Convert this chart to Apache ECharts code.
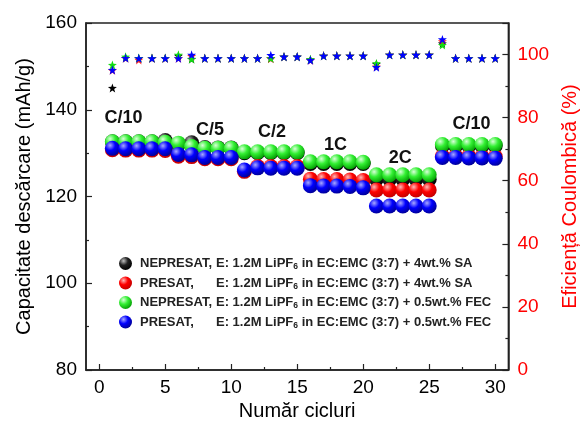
<!DOCTYPE html>
<html>
<head>
<meta charset="utf-8">
<script src="https://cdn.jsdelivr.net/npm/echarts@6/dist/echarts.min.js"></script>
<style>
  html, body { margin: 0; padding: 0; background: #fff; }
  #chart { width: 588px; height: 428px; }
</style>
</head>
<body>
<div id="chart"></div>
<script>
// cycle numbers
const cycles = [1, 2, 3, 4, 5, 6, 7, 8, 9, 10, 11, 12, 13, 14, 15, 16, 17, 18, 19, 20, 21, 22, 23, 24, 25, 26, 27, 28, 29, 30];

// discharge capacity (mAh/g)
const capNepresatSA = [132.6, 132.6, 132.6, 132.6, 132.9, 132.0, 132.4, 131.3, 131.2, 131.2, 130.1, 130.1, 130.1, 130.1, 130.1, 127.6, 127.6, 127.6, 127.6, 127.6, 124.0, 124.0, 124.0, 124.0, 124.0, 131.7, 131.7, 131.7, 131.7, 131.7];
const capPresatSA = [130.8, 130.7, 130.7, 130.7, 130.6, 129.3, 129.2, 128.7, 128.7, 128.7, 125.8, 126.9, 126.9, 126.9, 126.9, 124.0, 123.9, 123.9, 123.8, 123.7, 121.5, 121.5, 121.5, 121.5, 121.5, 129.3, 129.3, 129.3, 129.2, 129.2];
const capNepresatFEC = [132.6, 132.6, 132.6, 132.6, 132.5, 132.3, 131.5, 131.1, 131.1, 131.1, 130.3, 130.3, 130.3, 130.3, 130.3, 128.0, 128.0, 128.0, 128.0, 127.9, 125.0, 125.0, 125.0, 125.0, 125.0, 132.0, 132.0, 132.0, 132.0, 132.0];
const capPresatFEC = [131.1, 131.0, 131.0, 131.0, 131.0, 129.7, 129.6, 129.0, 129.0, 129.0, 126.1, 126.6, 126.5, 126.5, 126.5, 122.5, 122.4, 122.4, 122.3, 122.0, 117.8, 117.8, 117.8, 117.8, 117.8, 129.0, 129.0, 128.9, 128.9, 128.8];

// coulombic efficiency (%)
const effNepresatSA = [89.4, 98.9, 98.8, 98.8, 98.8, 99.6, 98.6, 98.8, 98.8, 98.8, 98.8, 98.8, 98.8, 99.3, 99.3, 98.4, 99.6, 99.6, 99.6, 99.6, 97.0, 99.9, 99.9, 99.9, 99.9, 103.5, 98.8, 98.8, 98.8, 98.8];
const effPresatSA = [95.0, 98.9, 98.3, 98.8, 98.8, 98.8, 99.5, 98.8, 98.8, 98.8, 98.8, 98.8, 98.7, 99.3, 99.3, 98.2, 99.6, 99.6, 99.6, 99.6, 96.2, 99.9, 99.9, 99.9, 99.9, 104.2, 98.8, 98.8, 98.8, 98.8];
const effNepresatFEC = [96.7, 99.3, 98.9, 98.9, 98.9, 99.9, 98.6, 98.8, 98.8, 98.8, 98.8, 98.8, 98.8, 99.3, 99.3, 98.5, 99.6, 99.6, 99.6, 99.6, 97.2, 99.9, 99.9, 99.9, 99.9, 103.0, 98.8, 98.8, 98.8, 98.8];
const effPresatFEC = [95.1, 98.9, 98.8, 98.8, 98.8, 98.8, 99.9, 98.8, 98.8, 98.8, 98.8, 98.8, 99.8, 99.3, 99.3, 98.2, 99.6, 99.6, 99.6, 99.6, 96.0, 99.9, 99.9, 99.9, 99.9, 104.8, 98.8, 98.8, 98.8, 98.8];

// tick labels
const xTicks = [0, 5, 10, 15, 20, 25, 30];
const xMinorTicks = [2.5, 7.5, 12.5, 17.5, 22.5, 27.5];

// rate labels: [text, cycle, capacity]
const rateLabels = [['C/10', 1.85, 138.1], ['C/5', 8.4, 135.3], ['C/2', 13.1, 134.9], ['1C', 17.9, 131.9], ['2C', 22.8, 128.9], ['C/10', 28.2, 136.7]];

const FONT = '"Liberation Sans", Arial, sans-serif';

function sphere(light, base, dark) {
  return new echarts.graphic.RadialGradient(0.35, 0.3, 0.75, [
    { offset: 0, color: light },
    { offset: 0.45, color: base },
    { offset: 1, color: dark }
  ]);
}

const STAR = 'path://M0,-10L2.35,-3.24L9.51,-3.09L3.8,1.24L5.88,8.09L0,4L-5.88,8.09L-3.8,1.24L-9.51,-3.09L-2.35,-3.24Z';

const groups = [
  { name: 'nsa', cap: capNepresatSA, eff: effNepresatSA, fill: sphere('#c0c0c0', '#202020', '#000000'), star: '#000000' },
  { name: 'psa', cap: capPresatSA, eff: effPresatSA, fill: sphere('#ffb8b8', '#ff0000', '#c00000'), star: '#ff2020' },
  { name: 'nfec', cap: capNepresatFEC, eff: effNepresatFEC, fill: sphere('#d8ffd8', '#33f033', '#009a00'), star: '#11dd11' },
  { name: 'pfec', cap: capPresatFEC, eff: effPresatFEC, fill: sphere('#a8a8ff', '#0000ff', '#000090'), star: '#0000ff' }
];

const legendText = {
  nsa: '{a|NEPRESAT,}{t|E: 1.2M LiPF}{s|6}{t| in EC:EMC (3:7) + 4wt.% SA}',
  psa: '{a|PRESAT,}{t|E: 1.2M LiPF}{s|6}{t| in EC:EMC (3:7) + 4wt.% SA}',
  nfec: '{a|NEPRESAT,}{t|E: 1.2M LiPF}{s|6}{t| in EC:EMC (3:7) + 0.5wt.% FEC}',
  pfec: '{a|PRESAT,}{t|E: 1.2M LiPF}{s|6}{t| in EC:EMC (3:7) + 0.5wt.% FEC}'
};

const series = [];
groups.forEach(g => {
  series.push({
    name: g.name + '_eff',
    type: 'scatter',
    xAxisIndex: 0,
    yAxisIndex: 1,
    symbol: STAR,
    symbolSize: 9,
    itemStyle: { color: g.star, opacity: 1 },
    data: cycles.map((c, i) => [c, g.eff[i]]),
    z: 2
  });
});
groups.forEach(g => {
  series.push({
    name: g.name,
    type: 'scatter',
    xAxisIndex: 0,
    yAxisIndex: 0,
    symbol: 'circle',
    symbolSize: 15,
    itemStyle: { color: g.fill, opacity: 1 },
    data: cycles.map((c, i) => [c, g.cap[i]]),
    z: 3
  });
});

const axisLine = { show: true, onZero: false, lineStyle: { color: '#222', width: 1.5 } };

const option = {
  animation: false,
  backgroundColor: '#fff',
  textStyle: { fontFamily: FONT },
  grid: { left: 86, right: 72, top: 23, bottom: 58, show: true, borderColor: '#222', borderWidth: 1.5, containLabel: false },
  legend: {
    data: groups.map(g => g.name),
    orient: 'vertical',
    left: 114,
    top: 252,
    itemWidth: 13,
    itemHeight: 13,
    itemGap: 5,
    icon: 'circle',
    formatter: name => legendText[name],
    textStyle: {
      fontFamily: FONT,
      rich: {
        a: { fontFamily: FONT, fontSize: 13, fontWeight: 'bold', color: '#222', width: 76, padding: [0, 0, 0, 3] },
        t: { fontFamily: FONT, fontSize: 13, fontWeight: 'bold', color: '#222' },
        s: { fontFamily: FONT, fontSize: 8.5, fontWeight: 'bold', color: '#222', padding: [7, 0, 0, 0] }
      }
    }
  },
  xAxis: [
    {
      type: 'value', position: 'bottom', min: -1, max: 31,
      name: 'Număr cicluri', nameLocation: 'middle', nameGap: 30,
      nameTextStyle: { fontFamily: FONT, fontSize: 20, color: '#000' },
      axisLine: axisLine,
      axisTick: { inside: true, length: 6, customValues: xTicks, lineStyle: { color: '#222', width: 1.2 } },
      axisLabel: { customValues: xTicks, fontFamily: FONT, fontSize: 19, color: '#000', margin: 8 },
      splitLine: { show: false }
    },
    {
      type: 'value', position: 'bottom', min: -1, max: 31, offset: 0,
      axisLine: { show: false, onZero: false },
      axisTick: { inside: true, length: 3, customValues: xMinorTicks, lineStyle: { color: '#222', width: 1.2 } },
      axisLabel: { show: false },
      splitLine: { show: false }
    }
  ],
  yAxis: [
    {
      type: 'value', position: 'left', min: 80, max: 160, interval: 20,
      name: 'Capacitate descărcare (mAh/g)', nameLocation: 'middle', nameGap: 52, nameRotate: 90,
      nameTextStyle: { fontFamily: FONT, fontSize: 20, color: '#000' },
      axisLine: axisLine,
      axisTick: { inside: true, length: 6, lineStyle: { color: '#222', width: 1.2 } },
      minorTick: { show: true, splitNumber: 2, length: 3, lineStyle: { color: '#222', width: 1.2 } },
      axisLabel: { fontFamily: FONT, fontSize: 19, color: '#000', margin: 9 },
      splitLine: { show: false }
    },
    {
      type: 'value', position: 'right', min: 0, max: 110, interval: 20,
      name: 'Eficiență Coulombică (%)', nameLocation: 'middle', nameGap: 46, nameRotate: 90,
      nameTextStyle: { fontFamily: FONT, fontSize: 20, color: '#ff0000' },
      axisLine: axisLine,
      axisTick: { inside: true, length: 6, lineStyle: { color: '#222', width: 1.2 } },
      minorTick: { show: true, splitNumber: 2, length: 3, lineStyle: { color: '#222', width: 1.2 } },
      axisLabel: { fontFamily: FONT, fontSize: 19, color: '#ff0000', margin: 9, showMaxLabel: false },
      splitLine: { show: false }
    }
  ],
  series: series
};

const chart = echarts.init(document.getElementById('chart'), null, { renderer: 'canvas' });
chart.setOption(option);

// rate annotations placed through the chart's own coordinate system
chart.setOption({
  graphic: rateLabels.map(r => {
    const p = chart.convertToPixel({ xAxisIndex: 0, yAxisIndex: 0 }, [r[1], r[2]]);
    return {
      type: 'text', x: p[0], y: p[1], z: 10,
      style: { text: r[0], fontFamily: FONT, fontSize: 18, fontWeight: 'bold', fill: '#111', align: 'center', verticalAlign: 'middle' }
    };
  })
});
</script>
</body>
</html>
